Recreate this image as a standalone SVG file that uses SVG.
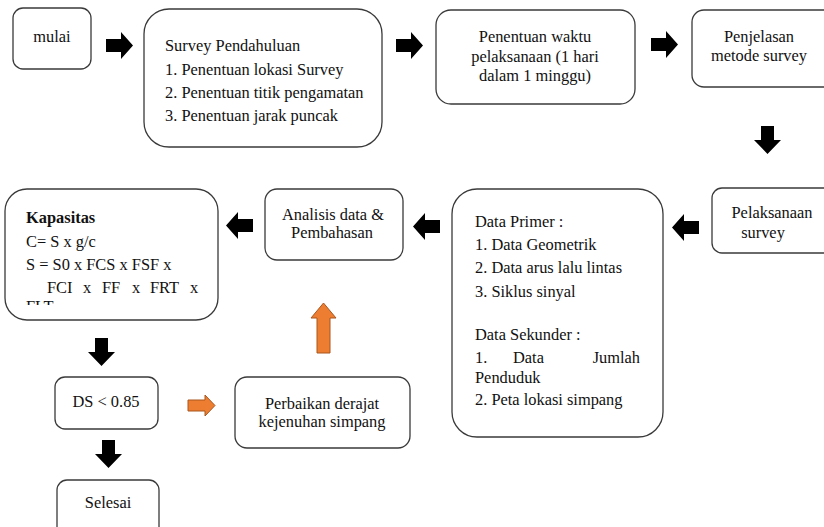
<svg xmlns="http://www.w3.org/2000/svg" width="824" height="527" viewBox="0 0 824 527" font-family="'Liberation Serif','DejaVu Serif','Times New Roman',serif">
<style>
.box{fill:#fff;stroke:#3a3a3a;stroke-width:1.3}
text{font-family:'Liberation Serif','DejaVu Serif','Times New Roman',serif;font-size:16.4px;fill:#111}
.c{text-anchor:middle}
.blk{fill:#000}
.org{fill:#ED7D31;stroke:#A9561F;stroke-width:1}
</style>
<defs>
<path id="ar" d="M0,7 H15 V0 L27,13.5 L15,27 V20 H0 Z"/>
<path id="al" d="M27,7 H12 V0 L0,13.5 L12,27 V20 H27 Z"/>
<path id="ad" d="M7,0 H20 V14 H27 L13.5,28 L0,14 H7 Z"/>
<clipPath id="clipK"><rect x="0" y="0" width="824" height="305"/></clipPath>
</defs>
<rect width="824" height="527" fill="#fff"/>

<g id="mulai"><rect class="box" x="13" y="8" width="78" height="61" rx="10"/><text class="c" x="52" y="42">mulai</text></g>

<g id="survey-pendahuluan"><rect class="box" x="144" y="9" width="238" height="138" rx="25"/>
<text x="165" y="51">Survey Pendahuluan</text>
<text x="165" y="75">1. Penentuan lokasi Survey</text>
<text x="165" y="98">2. Penentuan titik pengamatan</text>
<text x="165" y="121">3. Penentuan jarak puncak</text></g>

<g id="penentuan-waktu"><rect class="box" x="436" y="10" width="199" height="94" rx="15"/>
<text class="c" x="535" y="42">Penentuan waktu</text>
<text class="c" x="535" y="62">pelaksanaan (1 hari</text>
<text class="c" x="535" y="81">dalam 1 minggu)</text></g>

<g id="penjelasan"><rect class="box" x="692" y="10" width="145" height="77" rx="12"/>
<text class="c" x="759" y="42">Penjelasan</text>
<text class="c" x="759" y="61">metode survey</text></g>

<g id="pelaksanaan"><rect class="box" x="712" y="188" width="125" height="65" rx="10"/>
<text class="c" x="772" y="218">Pelaksanaan</text>
<text class="c" x="763" y="238">survey</text></g>

<g id="data"><rect class="box" x="452" y="189" width="211" height="248" rx="25"/>
<text x="475" y="227">Data Primer :</text>
<text x="475" y="250">1. Data Geometrik</text>
<text x="475" y="273">2. Data arus lalu lintas</text>
<text x="475" y="297">3. Siklus sinyal</text>
<text x="475" y="340">Data Sekunder :</text>
<text x="475" y="363">1.</text><text x="513" y="363">Data</text><text x="640" y="363" text-anchor="end">Jumlah</text>
<text x="475" y="383">Penduduk</text>
<text x="475" y="405">2. Peta lokasi simpang</text></g>

<g id="analisis"><rect class="box" x="265" y="189" width="138" height="71" rx="12"/>
<text class="c" x="333" y="220">Analisis data &amp;</text>
<text class="c" x="332" y="238">Pembahasan</text></g>

<g id="kapasitas"><rect class="box" x="5" y="189" width="213" height="131" rx="22"/>
<text x="26" y="223" font-weight="bold">Kapasitas</text>
<text x="26" y="247">C= S x g/c</text>
<text x="26" y="270">S = S0 x FCS x FSF x</text>
<text x="47" y="293">FCI</text><text x="83" y="293">x</text><text x="102" y="293">FF</text><text x="132" y="293">x</text><text x="150" y="293">FRT</text><text x="190" y="293">x</text>
<text x="26" y="312" clip-path="url(#clipK)">FLT</text></g>

<g id="ds"><rect class="box" x="55" y="377" width="103" height="52" rx="10"/>
<text class="c" x="106" y="407">DS &lt; 0.85</text></g>

<g id="perbaikan"><rect class="box" x="235" y="377" width="175" height="71" rx="12"/>
<text class="c" x="322" y="409">Perbaikan derajat</text>
<text class="c" x="322" y="427">kejenuhan simpang</text></g>

<g id="selesai"><rect class="box" x="57" y="480" width="102" height="60" rx="10"/>
<text class="c" x="108" y="508">Selesai</text></g>

<g id="connectors">
<use href="#ar" class="blk" x="106" y="32"/>
<use href="#ar" class="blk" x="396" y="32"/>
<use href="#ar" class="blk" x="651" y="31"/>
<use href="#ad" class="blk" x="754" y="126"/>
<use href="#al" class="blk" x="672" y="214"/>
<use href="#al" class="blk" x="413" y="213"/>
<use href="#al" class="blk" x="226" y="212"/>
<use href="#ad" class="blk" x="88" y="338"/>
<use href="#ad" class="blk" x="95" y="440"/>
<path class="org" d="M311,318 L323.5,303 L336,318 H330 V353 H317 V318 Z"/>
<path class="org" d="M188,400 H205 V395 L215,405.5 L205,416 V411 H188 Z"/>
</g>
</svg>
